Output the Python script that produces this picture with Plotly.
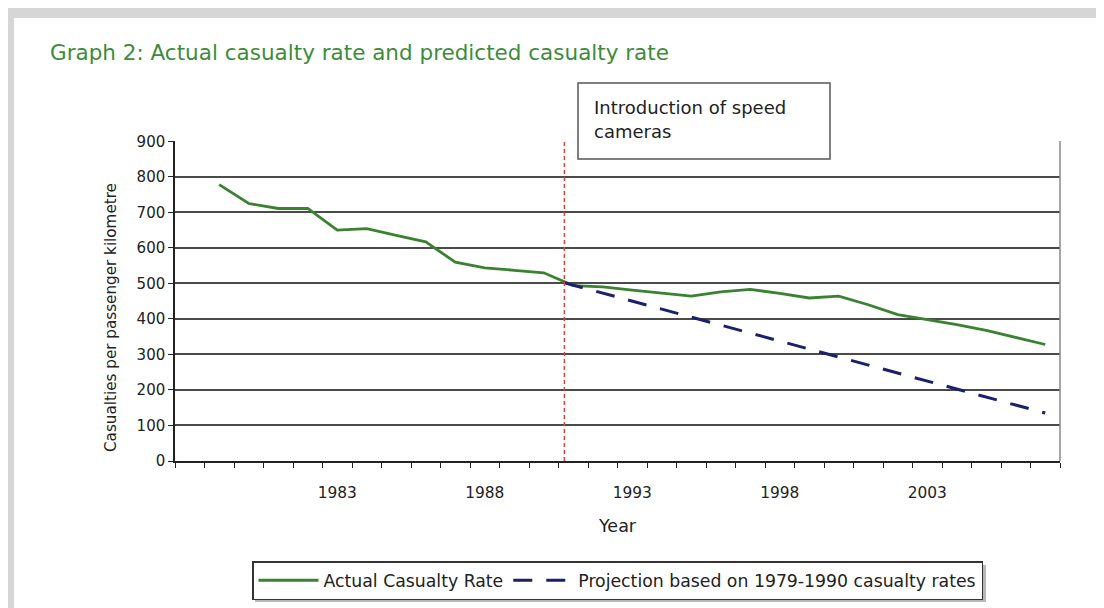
import plotly.graph_objects as go

# ---- data ----
years = list(range(1979, 2008))
actual_rate = [778, 725, 711, 711, 650, 654, 635, 617, 560, 544, 537, 530,
               494, 490, 481, 472, 464, 476, 483, 472, 459, 464, 440, 412,
               399, 384, 368, 349, 328]
projection_years = [1990.7, 1995, 2000, 2005, 2007]
projection_rate = [502, 405, 292, 180, 135]
camera_year = 1990.7
x_tick_vals = [1983, 1988, 1993, 1998, 2003]
x_tick_text = ["1983", "1988", "1993", "1998", "2003"]
y_tick_vals = [0, 100, 200, 300, 400, 500, 600, 700, 800, 900]

FONT = "DejaVu Sans"
W, H = 1104, 608
L, R, T, B = 167, 52, 133, 155
PW, PH = W - L - R, H - T - B


def px_x(p):
    return (p - L) / PW


def px_y(p):
    return (H - B - p) / PH


fig = go.Figure()
fig.add_trace(go.Scatter(
    x=years, y=actual_rate, mode="lines", name="Actual Casualty Rate",
    line=dict(color="#3a8232", width=2.8)))
fig.add_trace(go.Scatter(
    x=projection_years, y=projection_rate, mode="lines",
    name="Projection based on 1979-1990 casualty rates",
    line=dict(color="#1c1f6b", width=3, dash="19px,14px")))

shapes = []
# grey page frame
shapes.append(dict(type="rect", xref="paper", yref="paper",
                   x0=px_x(0), x1=px_x(W), y0=px_y(0), y1=px_y(10),
                   fillcolor="#d6d6d6", line=dict(width=0), layer="below"))
shapes.append(dict(type="rect", xref="paper", yref="paper",
                   x0=px_x(0), x1=px_x(6), y0=px_y(H), y1=px_y(0),
                   fillcolor="#d6d6d6", line=dict(width=0), layer="below"))
shapes.append(dict(type="rect", xref="paper", yref="paper",
                   x0=px_x(0), x1=px_x(W), y0=px_y(H), y1=px_y(605),
                   fillcolor="#d6d6d6", line=dict(width=0), layer="below"))
# soft legend shadow
shapes.append(dict(type="rect", xref="paper", yref="paper",
                   x0=px_x(247), x1=px_x(978), y0=px_y(594), y1=px_y(557),
                   fillcolor="#b8b8b8", line=dict(width=0), layer="below"))
# right border of plot area
shapes.append(dict(type="line", xref="paper", yref="paper",
                   x0=1, x1=1, y0=0, y1=1,
                   line=dict(color="#8a8a8a", width=1.5)))
# camera introduction marker
shapes.append(dict(type="line", xref="x", yref="y",
                   x0=camera_year, x1=camera_year, y0=0, y1=900,
                   line=dict(color="#e0403a", width=1.5, dash="4px,3px")))
# annotation box
shapes.append(dict(type="rect", xref="paper", yref="paper",
                   x0=px_x(570), x1=px_x(822), y0=px_y(151), y1=px_y(75),
                   fillcolor="white", line=dict(color="#555555", width=1.5),
                   layer="above"))

annotations = [
    dict(text="Graph 2: Actual casualty rate and predicted casualty rate",
         xref="paper", yref="paper", x=px_x(40), y=px_y(44),
         xanchor="left", yanchor="middle", showarrow=False,
         font=dict(family=FONT, size=21.5, color="#3d8c3a")),
    dict(text="Introduction of speed", xref="paper", yref="paper",
         x=px_x(584), y=px_y(99), xanchor="left", yanchor="middle",
         showarrow=False, font=dict(family=FONT, size=18, color="#222222")),
    dict(text="cameras", xref="paper", yref="paper",
         x=px_x(584), y=px_y(123), xanchor="left", yanchor="middle",
         showarrow=False, font=dict(family=FONT, size=18, color="#222222")),
    dict(text="Year", xref="paper", yref="paper",
         x=0.5, y=px_y(518), xanchor="center", yanchor="middle",
         showarrow=False, font=dict(family=FONT, size=17.5, color="#222222")),
    dict(text="Casualties per passenger kilometre", xref="paper", yref="paper",
         x=px_x(103), y=px_y(310), xanchor="center", yanchor="middle",
         textangle=-90, showarrow=False,
         font=dict(family=FONT, size=15.2, color="#222222")),
]

fig.update_layout(
    width=W, height=H,
    margin=dict(l=L, r=R, t=T, b=B, autoexpand=False),
    paper_bgcolor="white", plot_bgcolor="white",
    font=dict(family=FONT, size=15, color="#222222"),
    shapes=shapes, annotations=annotations,
    showlegend=True,
    legend=dict(orientation="h", x=0.5, xanchor="center",
                y=px_y(553), yanchor="top",
                bgcolor="white", bordercolor="#333333", borderwidth=1.5,
                itemwidth=60, tracegroupgap=0,
                font=dict(family=FONT, size=17.3, color="#222222")),
    xaxis=dict(range=[1977.5, 2007.5], tickmode="array",
               tickvals=x_tick_vals, ticktext=x_tick_text,
               ticks="outside", ticklen=17, tickcolor="rgba(0,0,0,0)",
               showgrid=False, zeroline=False,
               showline=True, linecolor="#222222", linewidth=1.5,
               tickfont=dict(family=FONT, size=15.4, color="#222222"),
               minor=dict(tick0=1977.5, dtick=1, ticks="outside", ticklen=5,
                          tickcolor="#222222", tickwidth=1.2, showgrid=False)),
    yaxis=dict(range=[0, 901], tickmode="array", tickvals=y_tick_vals,
               ticks="outside", ticklen=5, tickcolor="#222222",
               showgrid=True, gridcolor="#4a4a4a", gridwidth=1.7,
               zeroline=False, showline=True, linecolor="#222222",
               linewidth=1.5,
               tickfont=dict(family=FONT, size=15, color="#222222")),
)

fig.write_html("out.html")
